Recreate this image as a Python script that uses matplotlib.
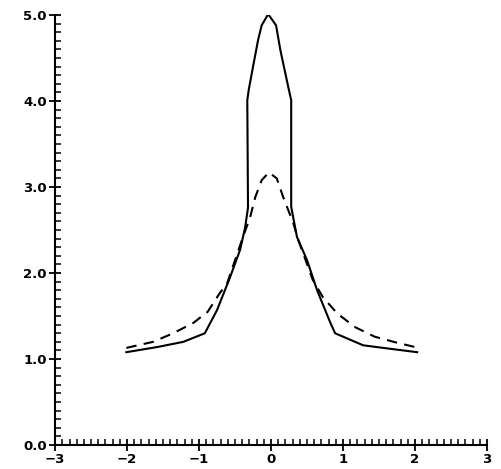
import numpy as np
import matplotlib
matplotlib.use('Agg')
import matplotlib.pyplot as plt
from matplotlib.ticker import MultipleLocator, FormatStrFormatter

# solid profile (with the steep steps near the centre)
x_solid = [-2.01, -1.58, -1.22, -0.92, -0.75, -0.57, -0.43, -0.36, -0.32,
           -0.33, -0.31, -0.25, -0.18, -0.13, -0.04, 0.07, 0.13, 0.24,
           0.28, 0.28, 0.36, 0.50, 0.64, 0.82, 0.89, 1.28, 1.65, 2.03]
y_solid = [1.08, 1.14, 1.20, 1.30, 1.57, 1.95, 2.27, 2.53, 2.76,
           4.01, 4.13, 4.40, 4.71, 4.88, 5.01, 4.88, 4.59, 4.16,
           4.01, 2.77, 2.42, 2.15, 1.80, 1.43, 1.30, 1.16, 1.12, 1.08]

# dashed profile
x_dash = [-2.01, -1.64, -1.36, -1.08, -0.88, -0.71, -0.61, -0.50, -0.39,
          -0.29, -0.22, -0.13, -0.03, 0.08, 0.17, 0.31, 0.38, 0.58, 0.72,
          0.92, 1.17, 1.44, 1.75, 2.00]
y_dash = [1.13, 1.20, 1.30, 1.42, 1.55, 1.77, 1.88, 2.15, 2.42,
          2.65, 2.88, 3.08, 3.17, 3.10, 2.88, 2.58, 2.38, 1.92, 1.72,
          1.53, 1.37, 1.26, 1.19, 1.14]

fig = plt.figure(figsize=(5.01, 4.69), dpi=100)
ax = fig.add_axes([0.11, 0.051, 0.862, 0.917])

ax.plot(x_solid, y_solid, color='black', linewidth=1.5)
ax.plot(x_dash, y_dash, color='black', linewidth=1.5, dashes=(5, 3.5))

ax.set_xlim(-3, 3)
ax.set_ylim(0, 5)
ax.spines['top'].set_visible(False)
ax.spines['right'].set_visible(False)
for s in ('left', 'bottom'):
    ax.spines[s].set_linewidth(1.5)

ax.xaxis.set_major_locator(MultipleLocator(1))
ax.xaxis.set_minor_locator(MultipleLocator(0.1))
ax.yaxis.set_major_locator(MultipleLocator(1))
ax.yaxis.set_minor_locator(MultipleLocator(0.1))
ax.yaxis.set_major_formatter(FormatStrFormatter('%.1f'))

ax.tick_params(which='major', direction='inout', length=8, width=1.3,
               labelsize=9.5, pad=2)
ax.tick_params(which='minor', direction='in', length=4, width=1.1)
for lab in ax.get_xticklabels() + ax.get_yticklabels():
    lab.set_fontweight('bold')

fig.savefig('out.png', dpi=100)
